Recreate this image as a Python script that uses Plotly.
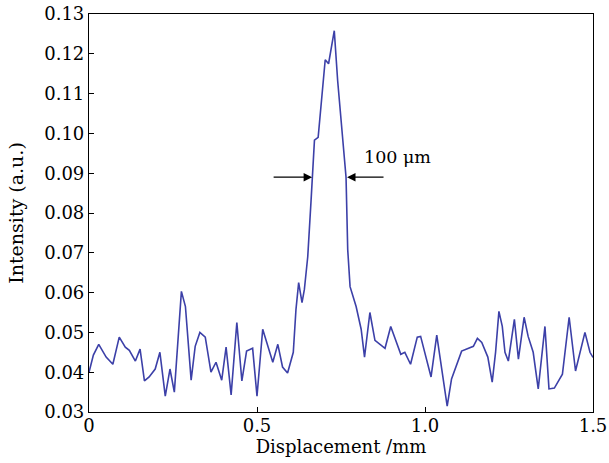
import plotly.graph_objects as go

displacement = [0.000, 0.013, 0.029, 0.051, 0.071, 0.090, 0.108, 0.120, 0.138, 0.152,
                0.165, 0.179, 0.197, 0.211, 0.227, 0.241, 0.254, 0.267, 0.275, 0.287,
                0.304, 0.316, 0.330, 0.346, 0.363, 0.378, 0.395, 0.408, 0.423, 0.440,
                0.455, 0.469, 0.487, 0.500, 0.517, 0.547, 0.562, 0.576, 0.591, 0.608,
                0.616, 0.624, 0.634, 0.641, 0.651, 0.661, 0.671, 0.682, 0.693, 0.703,
                0.713, 0.721, 0.730, 0.740, 0.755, 0.765, 0.770, 0.777, 0.795, 0.810,
                0.820, 0.836, 0.851, 0.881, 0.898, 0.928, 0.940, 0.957, 0.977, 0.987,
                1.018, 1.035, 1.066, 1.079, 1.109, 1.124, 1.144, 1.156, 1.169, 1.187,
                1.200, 1.210, 1.220, 1.230, 1.238, 1.248, 1.266, 1.278, 1.295, 1.307,
                1.322, 1.337, 1.357, 1.369, 1.385, 1.409, 1.429, 1.448, 1.476, 1.491,
                1.500]
intensity = [0.0400, 0.0443, 0.0470, 0.0438, 0.0420, 0.0488, 0.0463, 0.0455, 0.0428, 0.0458,
             0.0378, 0.0388, 0.0408, 0.0450, 0.0340, 0.0408, 0.0350, 0.0525, 0.0603, 0.0565,
             0.0380, 0.0465, 0.0500, 0.0488, 0.0400, 0.0425, 0.0380, 0.0463, 0.0343, 0.0525,
             0.0378, 0.0453, 0.0460, 0.0340, 0.0508, 0.0425, 0.0470, 0.0413, 0.0398, 0.0450,
             0.0558, 0.0625, 0.0575, 0.0608, 0.0690, 0.0833, 0.0983, 0.0990, 0.1100, 0.1185,
             0.1175, 0.1215, 0.1258, 0.1133, 0.0990, 0.0890, 0.0708, 0.0615, 0.0565, 0.0508,
             0.0438, 0.0550, 0.0480, 0.0460, 0.0515, 0.0445, 0.0450, 0.0420, 0.0488, 0.0490,
             0.0388, 0.0493, 0.0315, 0.0383, 0.0453, 0.0458, 0.0465, 0.0485, 0.0475, 0.0438,
             0.0375, 0.0450, 0.0553, 0.0515, 0.0450, 0.0428, 0.0533, 0.0433, 0.0538, 0.0490,
             0.0450, 0.0358, 0.0515, 0.0358, 0.0360, 0.0395, 0.0538, 0.0403, 0.0500, 0.0450,
             0.0437]

x_tick_vals = [0, 0.5, 1.0, 1.5]
x_tick_text = ["0", "0.5", "1.0", "1.5"]
y_tick_vals = [0.03, 0.04, 0.05, 0.06, 0.07, 0.08, 0.09, 0.10, 0.11, 0.12, 0.13]

font_family = "DejaVu Serif"

fig = go.Figure()
fig.add_trace(go.Scatter(x=displacement, y=intensity, mode="lines",
                         line=dict(color="#3c40a8", width=1.6), showlegend=False,
                         cliponaxis=False))

# FWHM arrows
fig.add_annotation(x=0.664, y=0.089, ax=0.545, ay=0.089, xref="x", yref="y",
                   axref="x", ayref="y", text="", showarrow=True,
                   arrowhead=2, arrowsize=1.3, arrowwidth=1.3, arrowcolor="black")
fig.add_annotation(x=0.768, y=0.089, ax=0.881, ay=0.089, xref="x", yref="y",
                   axref="x", ayref="y", text="", showarrow=True,
                   arrowhead=2, arrowsize=1.3, arrowwidth=1.3, arrowcolor="black")
fig.add_annotation(x=0.812, y=0.094, xref="x", yref="y", text="100 μm",
                   showarrow=False, xanchor="left", yanchor="middle",
                   font=dict(family=font_family, size=17.5, color="black"))

fig.update_layout(
    width=609, height=463,
    margin=dict(l=89, r=16, t=14, b=51),
    paper_bgcolor="white", plot_bgcolor="white",
    font=dict(family=font_family, size=18, color="black"),
    xaxis=dict(range=[0, 1.5], tickvals=x_tick_vals, ticktext=x_tick_text,
               ticks="inside", ticklen=5, tickcolor="black", automargin=False,
               ticklabelstandoff=-3,
               showline=True, linecolor="black", linewidth=1.2, mirror=True,
               showgrid=False, zeroline=False,
               title=dict(text="Displacement /mm", standoff=0,
                          font=dict(family=font_family, size=18))),
    yaxis=dict(range=[0.03, 0.13], tickvals=y_tick_vals, tickformat=".2f",
               ticks="inside", ticklen=5, tickcolor="black", automargin=False,
               showline=True, linecolor="black", linewidth=1.2, mirror=True,
               showgrid=False, zeroline=False,
               title=dict(text="Intensity (a.u.)", standoff=15,
                          font=dict(family=font_family, size=19))),
)

# remove the browser's default 8px body margin so the figure sits at the page origin
fig.write_html("out.html", config={"displayModeBar": False},
               post_script="document.body.style.margin='0';")
